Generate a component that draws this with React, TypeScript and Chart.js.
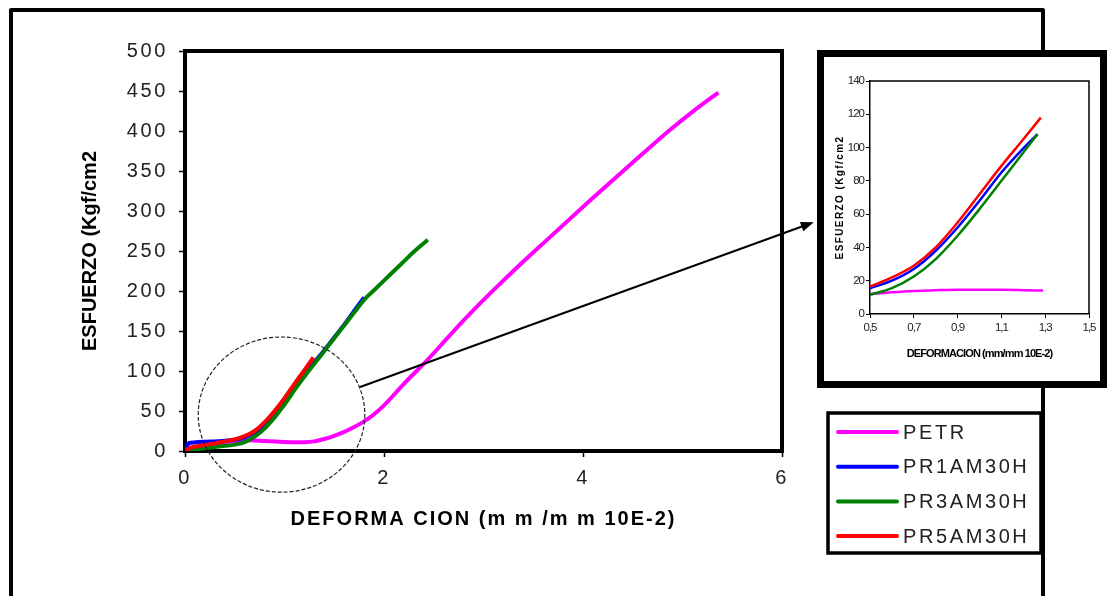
import React, { useEffect, useRef } from 'react';
import { Chart, registerables, LinearScale } from 'chart.js';

Chart.register(...registerables);

// Linear scale that can draw its tick labels and title with custom letter spacing.
class SpacedLinearScale extends LinearScale {
  static id = 'spacedLinear';
  static defaults = LinearScale.defaults;
  drawLabels(chartArea: any) {
    const ctx: any = this.ctx;
    ctx.save();
    ctx.letterSpacing = (this.options as any).ticks.letterSpacing || '0px';
    super.drawLabels(chartArea);
    ctx.restore();
  }
  drawTitle() {
    const ctx: any = this.ctx;
    ctx.save();
    ctx.letterSpacing = (this.options as any).title.letterSpacing || '0px';
    super.drawTitle();
    ctx.restore();
  }
}
Chart.register(SpacedLinearScale as any);

// ---- series names and colours ----
const SERIES_LABELS = ['PETR', 'PR1AM30H', 'PR3AM30H', 'PR5AM30H'];
const SERIES_COLORS = ['#ff00ff', '#0000ff', '#008000', '#ff0000'];

// ---- main chart: deformation (mm/mm 10E-2) vs stress (Kgf/cm2) ----
const PETR_X = [0, 0.1, 0.2, 0.35, 0.5, 0.65, 0.8, 0.95, 1.1, 1.2, 1.3, 1.4, 1.5, 1.6, 1.7, 1.8, 1.9, 2.0, 2.2, 2.43, 2.65, 2.86, 3.1, 3.3, 3.63, 4.07, 4.44, 4.87, 5.1, 5.36];
const PETR_Y = [0, 3, 6, 10, 12.5, 13.5, 12.5, 11.5, 11, 11, 12, 15, 19, 24, 30, 37, 46, 57, 84, 113, 143, 171, 201, 225, 263, 313, 354, 401, 424, 448];

const PR1_X = [0, 0.04, 0.3, 0.5, 0.6, 0.7, 0.8, 0.9, 1.0, 1.1, 1.2, 1.3, 1.4, 1.5, 1.6, 1.7, 1.8];
const PR1_Y = [0, 10, 12, 14, 17, 23, 32, 45, 61, 79, 96, 111, 126, 142, 158, 175, 192];

const PR3_X = [0, 0.1, 0.2, 0.3, 0.4, 0.5, 0.6, 0.7, 0.8, 0.9, 1.0, 1.1, 1.2, 1.3, 1.4, 1.5, 1.6, 1.7, 1.8, 1.9, 2.0, 2.1, 2.2, 2.3, 2.44];
const PR3_Y = [0, 2, 3.5, 5, 6.5, 8, 11, 18, 28, 42, 58, 76, 93, 109, 125, 141, 157, 173, 189, 201, 213, 225, 237, 249, 264];

const PR5_X = [0, 0.05, 0.15, 0.3, 0.4, 0.5, 0.6, 0.7, 0.8, 0.9, 1.0, 1.1, 1.2, 1.29];
const PR5_Y = [0, 4, 6.5, 9.5, 12, 14.5, 18.5, 25, 36, 50, 66, 84, 101, 117];

// ---- detail chart (0.5 – 1.5) ----
const D_PETR_X = [0.5, 0.6, 0.7, 0.8, 0.9, 1.0, 1.1, 1.2, 1.29];
const D_PETR_Y = [12, 13, 13.8, 14.3, 14.6, 14.6, 14.5, 14.3, 14.1];
const D_PR1_X = [0.5, 0.6, 0.7, 0.8, 0.9, 1.0, 1.1, 1.2, 1.265];
const D_PR1_Y = [15.5, 20, 27, 38, 52, 68, 85, 99.5, 108];
const D_PR3_X = [0.5, 0.6, 0.7, 0.8, 0.9, 1.0, 1.1, 1.2, 1.265];
const D_PR3_Y = [11.5, 15.5, 22.5, 33, 47, 63, 80, 97, 108];
const D_PR5_X = [0.5, 0.6, 0.7, 0.8, 0.9, 1.0, 1.1, 1.2, 1.28];
const D_PR5_Y = [16.5, 22, 29, 40, 55, 72, 89, 105, 118];

// ---- axis texts ----
const MAIN_X_TITLE = 'DEFORMA CION (m m /m m 10E-2)';
const MAIN_Y_TITLE = 'ESFUERZO (Kgf/cm2';
const DETAIL_X_TITLE = 'DEFORMACION (mm/mm 10E-2)';
const DETAIL_Y_TITLE = 'ESFUERZO (Kgf/cm2';

// ---- annotation geometry (data units of the main chart) ----
const ZOOM_CENTER = [0.97, 45.5];
const ZOOM_RADII = [0.837, 97];
const ARROW_FROM = [1.76, 80];
const ARROW_TO = [6.32, 286];

const MAIN_FONT = "'Liberation Sans', Arial, sans-serif";

const zip = (xs: number[], ys: number[]) => xs.map((x, i) => ({ x, y: ys[i] }));

// outer frame, zoom circle, arrow, plot box and legend of the main chart
const mainDecor = {
  id: 'mainDecor',
  afterDraw(chart: any) {
    const { ctx, chartArea, scales } = chart;
    const sx = scales.x, sy = scales.y;
    ctx.save();
    // outer frame (open at the bottom)
    ctx.strokeStyle = '#000';
    ctx.lineWidth = 4;
    ctx.lineJoin = 'round';
    ctx.beginPath();
    ctx.moveTo(11, 600);
    ctx.lineTo(11, 10);
    ctx.lineTo(1043, 10);
    ctx.lineTo(1043, 600);
    ctx.stroke();

    // top and right sides of the plot box
    ctx.lineWidth = 4;
    ctx.lineJoin = 'miter';
    ctx.beginPath();
    ctx.moveTo(chartArea.left - 2, chartArea.top);
    ctx.lineTo(chartArea.right, chartArea.top);
    ctx.lineTo(chartArea.right, chartArea.bottom + 2);
    ctx.stroke();

    // dashed zoom circle
    const cx = sx.getPixelForValue(ZOOM_CENTER[0]);
    const cy = sy.getPixelForValue(ZOOM_CENTER[1]);
    const rx = sx.getPixelForValue(ZOOM_CENTER[0] + ZOOM_RADII[0]) - cx;
    const ry = cy - sy.getPixelForValue(ZOOM_CENTER[1] + ZOOM_RADII[1]);
    ctx.lineWidth = 1.2;
    ctx.strokeStyle = '#222';
    ctx.setLineDash([4, 2]);
    ctx.beginPath();
    ctx.ellipse(cx, cy, rx, ry, 0, 0, Math.PI * 2);
    ctx.stroke();
    ctx.setLineDash([]);

    // arrow to the detail chart
    const ax0 = sx.getPixelForValue(ARROW_FROM[0]);
    const ay0 = sy.getPixelForValue(ARROW_FROM[1]);
    const ax1 = sx.getPixelForValue(ARROW_TO[0]);
    const ay1 = sy.getPixelForValue(ARROW_TO[1]);
    const ang = Math.atan2(ay1 - ay0, ax1 - ax0);
    const head = 13;
    ctx.strokeStyle = '#000';
    ctx.lineWidth = 2;
    ctx.beginPath();
    ctx.moveTo(ax0, ay0);
    ctx.lineTo(ax1 - Math.cos(ang) * head * 0.8, ay1 - Math.sin(ang) * head * 0.8);
    ctx.stroke();
    ctx.fillStyle = '#000';
    ctx.beginPath();
    ctx.moveTo(ax1, ay1);
    ctx.lineTo(ax1 - head * Math.cos(ang) + 5 * Math.sin(ang), ay1 - head * Math.sin(ang) - 5 * Math.cos(ang));
    ctx.lineTo(ax1 - head * Math.cos(ang) - 5 * Math.sin(ang), ay1 - head * Math.sin(ang) + 5 * Math.cos(ang));
    ctx.closePath();
    ctx.fill();

    // legend box
    const lb = { left: 828, top: 413, right: 1041, bottom: 553 };
    ctx.fillStyle = '#fff';
    ctx.fillRect(lb.left, lb.top, lb.right - lb.left, lb.bottom - lb.top);
    ctx.lineWidth = 3.5;
    ctx.strokeStyle = '#000';
    ctx.strokeRect(lb.left, lb.top, lb.right - lb.left, lb.bottom - lb.top);
    ctx.lineWidth = 4;
    ctx.beginPath();
    ctx.moveTo(1043, lb.top - 4);
    ctx.lineTo(1043, lb.bottom + 4);
    ctx.stroke();

    chart.data.datasets.forEach((ds: any, i: number) => {
      const y = lb.top + 19 + i * 34.7;
      ctx.strokeStyle = ds.borderColor;
      ctx.lineWidth = 4;
      ctx.lineCap = 'round';
      ctx.beginPath();
      ctx.moveTo(838, y);
      ctx.lineTo(897, y);
      ctx.stroke();
      ctx.fillStyle = '#222';
      ctx.font = `20px ${MAIN_FONT}`;
      ctx.textBaseline = 'middle';
      ctx.textAlign = 'left';
      ctx.letterSpacing = '2.6px';
      ctx.fillText(ds.label, 903, y + 1);
      ctx.letterSpacing = '0px';
    });
    ctx.restore();
  },
};

// top and right sides of the detail plot box
const detailBox = {
  id: 'detailBox',
  afterDraw(chart: any) {
    const { ctx, chartArea } = chart;
    ctx.save();
    ctx.strokeStyle = '#000';
    ctx.lineWidth = 1.5;
    ctx.beginPath();
    ctx.moveTo(chartArea.left, chartArea.top);
    ctx.lineTo(chartArea.right, chartArea.top);
    ctx.lineTo(chartArea.right, chartArea.bottom);
    ctx.stroke();
    ctx.restore();
  },
};

function makeDatasets(xs: number[][], ys: number[][], width: number) {
  return SERIES_LABELS.map((label, i) => ({
    label,
    data: zip(xs[i], ys[i]),
    borderColor: SERIES_COLORS[i],
    backgroundColor: SERIES_COLORS[i],
    borderWidth: width,
    pointRadius: 0,
    fill: false,
    cubicInterpolationMode: 'monotone',
    order: 4 - i,
  }));
}

export default function App() {
  const mainRef = useRef<HTMLCanvasElement>(null);
  const detailRef = useRef<HTMLCanvasElement>(null);

  useEffect(() => {
    const main = new Chart(mainRef.current!, {
      type: 'line',
      data: {
        datasets: makeDatasets([PETR_X, PR1_X, PR3_X, PR5_X], [PETR_Y, PR1_Y, PR3_Y, PR5_Y], 4) as any,
      },
      options: {
        responsive: false,
        animation: false,
        layout: { padding: { left: 70, top: 51, right: 325, bottom: 55 } },
        plugins: { legend: { display: false }, tooltip: { enabled: false } },
        scales: {
          x: {
            type: 'spacedLinear' as any,
            position: 'bottom',
            min: 0,
            max: 6,
            ticks: { stepSize: 2, font: { family: MAIN_FONT, size: 20 }, color: '#222', padding: 9, letterSpacing: '2.6px' } as any,
            grid: { display: true, drawOnChartArea: false, drawTicks: true, tickLength: 6, tickWidth: 1.5, tickColor: '#000' },
            border: { display: true, width: 4, color: '#000' },
            title: {
              display: true,
              text: MAIN_X_TITLE,
              font: { family: MAIN_FONT, size: 20, weight: 'bold' },
              color: '#000',
              padding: { top: 0, bottom: 10 },
              letterSpacing: '2px',
            } as any,
            afterFit: (s: any) => { s.height = 90; },
          },
          y: {
            type: 'spacedLinear' as any,
            position: 'left',
            min: 0,
            max: 500,
            ticks: { stepSize: 50, font: { family: MAIN_FONT, size: 20 }, color: '#222', padding: 11, letterSpacing: '2.6px' } as any,
            grid: { display: true, drawOnChartArea: false, drawTicks: true, tickLength: 6, tickWidth: 1.5, tickColor: '#000' },
            border: { display: true, width: 4, color: '#000' },
            title: {
              display: true,
              text: MAIN_Y_TITLE,
              font: { family: MAIN_FONT, size: 20, weight: 'bold' },
              color: '#000',
              padding: { top: 8, bottom: 0 },
            },
            afterFit: (s: any) => { s.width = 115; },
          },
        },
      } as any,
      plugins: [mainDecor],
    });

    const detail = new Chart(detailRef.current!, {
      type: 'line',
      data: {
        datasets: makeDatasets([D_PETR_X, D_PR1_X, D_PR3_X, D_PR5_X], [D_PETR_Y, D_PR1_Y, D_PR3_Y, D_PR5_Y], 2.5) as any,
      },
      options: {
        responsive: false,
        animation: false,
        layout: { padding: { left: 6, top: 24, right: 8, bottom: 11 } },
        plugins: { legend: { display: false }, tooltip: { enabled: false } },
        scales: {
          x: {
            type: 'spacedLinear' as any,
            position: 'bottom',
            min: 0.5,
            max: 1.5,
            ticks: {
              stepSize: 0.2,
              font: { family: MAIN_FONT, size: 11.5 },
              color: '#222',
              padding: 3,
              letterSpacing: '-1px',
              callback: (v: any) => Number(v).toFixed(1).replace('.', ','),
            } as any,
            grid: { display: true, drawOnChartArea: false, drawTicks: true, tickLength: 4, tickWidth: 1, tickColor: '#000' },
            border: { display: true, width: 1.5, color: '#000' },
            title: {
              display: true,
              text: DETAIL_X_TITLE,
              font: { family: MAIN_FONT, size: 11, weight: 'bold' },
              color: '#000',
              padding: { top: 0, bottom: 9 },
              letterSpacing: '-0.9px',
            } as any,
            afterFit: (s: any) => { s.height = 56; },
          },
          y: {
            type: 'spacedLinear' as any,
            position: 'left',
            min: 0,
            max: 140,
            ticks: { stepSize: 20, font: { family: MAIN_FONT, size: 11.5 }, color: '#222', padding: 2, letterSpacing: '-1px' } as any,
            grid: { display: true, drawOnChartArea: false, drawTicks: true, tickLength: 4, tickWidth: 1, tickColor: '#000' },
            border: { display: true, width: 1.5, color: '#000' },
            title: {
              display: true,
              text: DETAIL_Y_TITLE,
              font: { family: MAIN_FONT, size: 10, weight: 'bold' },
              color: '#000',
              padding: { top: 4, bottom: 0 },
              letterSpacing: '1.4px',
            } as any,
            afterFit: (s: any) => { s.width = 40; },
          },
        },
      } as any,
      plugins: [detailBox],
    });

    return () => {
      main.destroy();
      detail.destroy();
    };
  }, []);

  return (
    <div style={{ position: 'absolute', left: 0, top: 0, width: 1107, height: 596, background: '#fff', overflow: 'hidden' }}>
      <canvas ref={mainRef} width={1107} height={596} style={{ position: 'absolute', left: 0, top: 0 }} />
      <div
        style={{
          position: 'absolute',
          left: 817,
          top: 50,
          width: 290,
          height: 338,
          boxSizing: 'border-box',
          border: '7px solid #000',
          background: '#fff',
        }}
      >
        <canvas ref={detailRef} width={276} height={324} style={{ display: 'block' }} />
      </div>
    </div>
  );
}
